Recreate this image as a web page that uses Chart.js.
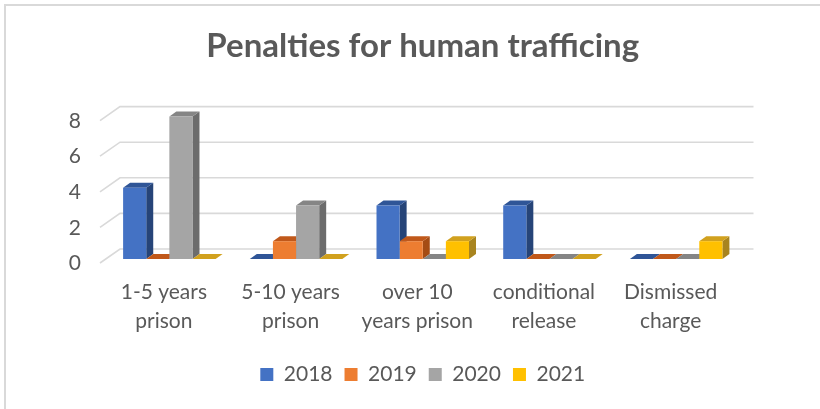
<!DOCTYPE html>
<html>
<head>
<meta charset="utf-8">
<script src="https://cdn.jsdelivr.net/npm/chart.js@4.4.1/dist/chart.umd.min.js"></script>
<style>
  html, body { margin: 0; padding: 0; background: #ffffff; overflow: hidden; }
  #wrap { position: relative; width: 820px; height: 409px; }
  #frame { position: absolute; left: 4px; top: 4px; width: 900px; height: 500px;
           border-left: 2px solid #D9D9D9; border-top: 2px solid #D9D9D9; pointer-events: none; }
  canvas { position: absolute; left: 0; top: 0; }
</style>
</head>
<body>
<div id="wrap">
  <canvas id="c" width="820" height="409"></canvas>
  <div id="frame"></div>
</div>
<script>
// ---- data ----
const categories = [
  ['1-5 years', 'prison'],
  ['5-10 years', 'prison'],
  ['over 10', 'years prison'],
  ['conditional', 'release'],
  ['Dismissed', 'charge']
];
const seriesNames = ['2018', '2019', '2020', '2021'];
const values2018 = [4, 0, 3, 3, 0];
const values2019 = [0, 1, 1, 0, 0];
const values2020 = [8, 3, 0, 0, 0];
const values2021 = [0, 0, 1, 0, 1];
const yTicks = [0, 2, 4, 6, 8];

// ---- styles ----
const frontColors = ['#4472C4', '#ED7D31', '#A5A5A5', '#FFC000'];
const topColors   = ['#2F5597', '#C0581A', '#858585', '#D1A11E'];
const sideColors  = ['#264478', '#A54C14', '#6C6C6C', '#A8841F'];
const textColor = '#595959';
const gridColor = '#D9D9D9';
const FONT = 'Lato';

// 3D geometry (pixel offsets relative to the bar plane)
const BAR_DX = 7, BAR_DY = -5;        // depth of each bar
const BACK_DX = 14, BACK_DY = -10;    // back wall relative to bar plane
const FRONT_DX = -6, FRONT_DY = 4;    // front edge relative to bar plane

const threeD = {
  id: 'threeD',
  beforeDatasetsDraw(chart) {
    const ctx = chart.ctx;
    const ys = chart.scales.y;
    const area = chart.chartArea;
    ctx.save();
    // walls gridlines
    ctx.strokeStyle = gridColor;
    ctx.lineWidth = 1.6;
    yTicks.forEach(v => {
      const py = ys.getPixelForValue(v);
      ctx.beginPath();
      ctx.moveTo(area.left + FRONT_DX, py + FRONT_DY);
      ctx.lineTo(area.left + BACK_DX, py + BACK_DY);
      ctx.lineTo(area.right + BACK_DX, py + BACK_DY);
      ctx.stroke();
    });
    // bar side and top faces
    const metas = chart.data.datasets.map((d, i) => chart.getDatasetMeta(i));
    for (let c = 0; c < categories.length; c++) {
      metas.forEach((meta, di) => {
        const el = meta.data[c];
        if (!el) return;
        const p = el.getProps(['x', 'y', 'base', 'width'], true);
        const l = p.x - p.width / 2, r = p.x + p.width / 2;
        const top = Math.min(p.y, p.base), bot = Math.max(p.y, p.base);
        if (bot - top > 0.5) {
          ctx.fillStyle = sideColors[di];
          ctx.beginPath();
          ctx.moveTo(r, bot);
          ctx.lineTo(r, top);
          ctx.lineTo(r + BAR_DX, top + BAR_DY);
          ctx.lineTo(r + BAR_DX, bot + BAR_DY);
          ctx.closePath();
          ctx.fill();
        }
        ctx.fillStyle = topColors[di];
        ctx.beginPath();
        ctx.moveTo(l, top);
        ctx.lineTo(r, top);
        ctx.lineTo(r + BAR_DX, top + BAR_DY);
        ctx.lineTo(l + BAR_DX, top + BAR_DY);
        ctx.closePath();
        ctx.fill();
      });
    }
    ctx.restore();
  }
};

const seriesValues = [values2018, values2019, values2020, values2021];

new Chart(document.getElementById('c'), {
  type: 'bar',
  data: {
    labels: categories,
    datasets: seriesNames.map((name, i) => ({
      label: name,
      data: seriesValues[i],
      backgroundColor: frontColors[i],
      borderWidth: 0,
      barPercentage: 1.0,
      categoryPercentage: 0.73,
      clip: false
    }))
  },
  options: {
    responsive: false,
    animation: false,
    devicePixelRatio: 1,
    layout: { padding: { left: 0, right: 80.5, top: 0, bottom: 14 } },
    plugins: {
      title: {
        display: true,
        text: 'Penalties for human trafficing',
        color: textColor,
        fullSize: false,
        font: { family: FONT, size: 33, weight: 'bold' },
        padding: { top: 27, bottom: 50 }
      },
      legend: {
        position: 'bottom',
        fullSize: false,
        labels: {
          color: textColor,
          font: { family: FONT, size: 21 },
          boxWidth: 13,
          boxHeight: 13,
          padding: 12
        }
      },
      tooltip: { enabled: false }
    },
    scales: {
      x: {
        grid: { display: false, drawTicks: false },
        border: { display: false },
        ticks: {
          color: textColor,
          font: { family: FONT, size: 21, lineHeight: 1.38 },
          padding: 19,
          labelOffset: -5.5,
          maxRotation: 0,
          autoSkip: false
        },
        afterFit(s) { s.height = 93; }
      },
      y: {
        min: 0,
        max: 8,
        grid: { display: false, drawTicks: false },
        border: { display: false },
        ticks: {
          stepSize: 2,
          color: textColor,
          font: { family: FONT, size: 21 },
          padding: 25,
          labelOffset: 4.5
        },
        afterFit(s) { s.width = 106; }
      }
    }
  },
  plugins: [threeD]
});
</script>
</body>
</html>
